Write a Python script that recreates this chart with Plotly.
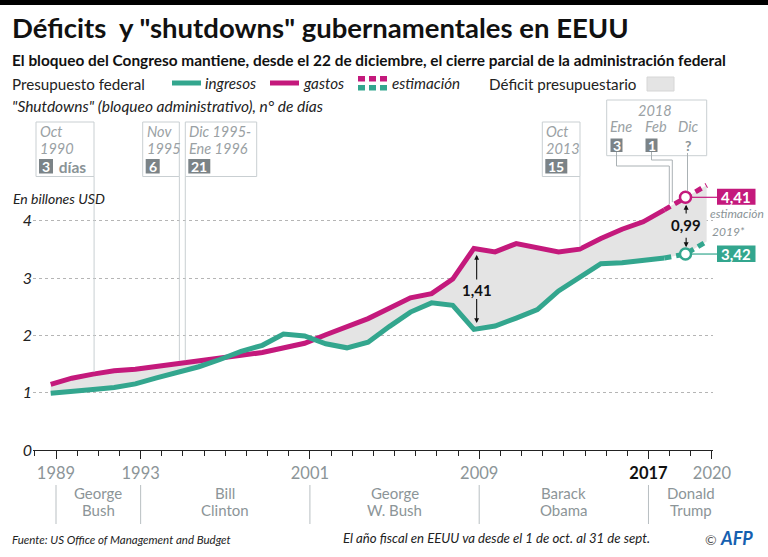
import numpy as np
import plotly.graph_objects as go

# ---------------- data ----------------
years = list(range(1989, 2021))
ingresos = [0.991, 1.032, 1.055, 1.091, 1.154, 1.259, 1.352, 1.453, 1.579, 1.722,
            1.827, 2.025, 1.991, 1.853, 1.783, 1.880, 2.154, 2.407, 2.568, 2.524,
            2.105, 2.163, 2.303, 2.450, 2.775, 3.021, 3.250, 3.268, 3.316, 3.350,
            3.420, 3.640]
gastos = [1.144, 1.253, 1.324, 1.382, 1.410, 1.462, 1.516, 1.561, 1.601, 1.652,
          1.702, 1.789, 1.863, 2.011, 2.160, 2.293, 2.472, 2.655, 2.729, 2.983,
          3.518, 3.457, 3.603, 3.537, 3.455, 3.506, 3.692, 3.853, 3.982, 4.190,
          4.410, 4.620]
first_estimate_year = 2018          # dashed from here on
highlight_year = 2019               # circles / labels
deficit_2009 = "1,41"
deficit_2019 = "0,99"
label_gastos_2019 = "4,41"
label_ingresos_2019 = "3,42"

tick_major = [1989, 1993, 2001, 2009, 2017, 2020]
tick_minor = list(range(1988, 2021))
presidents = ["George<br>Bush", "Bill<br>Clinton", "George<br>W. Bush", "Barack<br>Obama", "Donald<br>Trump"]
president_start = [1989, 1993, 2001, 2009, 2017]
president_center = [1991, 1997, 2005, 2013, 2019]

# shutdown markers (position on the time axis)
shutdowns = [
    dict(pos=1990.80, lines=["Oct", "1990"], days="3", extra=" días"),
    dict(pos=1994.83, lines=["Nov", "1995"], days="6", extra=""),
    dict(pos=1995.11, lines=["Dic 1995-", "Ene 1996"], days="21", extra=""),
    dict(pos=2013.76, lines=["Oct", "2013"], days="15", extra=""),
]

# ---------------- style ----------------
FONT = "Lato"
PINK = "#c4197c"
TEAL = "#33a68e"
FILL = "#e4e4e4"
GREY_T = "#8c9598"
BOX_T = "#9aa1a4"
BOX_L = "#c9cfd2"
NUMBOX = "#7b8387"

L, R, T_, B = 33, 55, 0, 107
W = 768 - L - R
H = 557 - T_ - B
PXY = 57.3                       # px per unit on y
XPPY = 21.16                     # px per year
x0 = 1989 - (56 - L) / XPPY
x1 = x0 + W / XPPY
ytop = H / PXY


def px(x):
    return (x - L) / W


def py(y):
    return (H - (y - T_)) / H


xf = [y - 0.25 for y in years]   # fiscal year starts 1 Oct of the previous year
k = years.index(first_estimate_year)
h = years.index(highlight_year)

# fill polygon (deficit only)
fx, flo, fhi = [], [], []
for i in range(len(xf)):
    if i > 0:
        d0 = gastos[i - 1] - ingresos[i - 1]
        d1 = gastos[i] - ingresos[i]
        if d0 * d1 < 0:
            t = d0 / (d0 - d1)
            xc = xf[i - 1] + t * (xf[i] - xf[i - 1])
            yc = ingresos[i - 1] + t * (ingresos[i] - ingresos[i - 1])
            fx.append(xc); flo.append(yc); fhi.append(yc)
    fx.append(xf[i]); flo.append(ingresos[i]); fhi.append(max(gastos[i], ingresos[i]))

fig = go.Figure()
fig.add_trace(go.Scatter(x=fx, y=flo, mode="lines", line=dict(width=0), hoverinfo="skip"))
fig.add_trace(go.Scatter(x=fx, y=fhi, mode="lines", line=dict(width=0), fill="tonexty",
                         fillcolor=FILL, hoverinfo="skip"))
# solid lines
fig.add_trace(go.Scatter(x=xf[:k + 1], y=gastos[:k + 1], mode="lines",
                         line=dict(color=PINK, width=5)))
fig.add_trace(go.Scatter(x=xf[:k + 1], y=ingresos[:k + 1], mode="lines",
                         line=dict(color=TEAL, width=5)))
# estimates
fig.add_trace(go.Scatter(x=xf[k:], y=gastos[k:], mode="lines",
                         line=dict(color=PINK, width=5, dash="7px,5px")))
fig.add_trace(go.Scatter(x=xf[k:], y=ingresos[k:], mode="lines",
                         line=dict(color=TEAL, width=5, dash="7px,5px")))
fig.add_trace(go.Scatter(x=[xf[h]], y=[gastos[h]], mode="markers",
                         marker=dict(size=11, color="white", line=dict(color=PINK, width=2.5))))
fig.add_trace(go.Scatter(x=[xf[h]], y=[ingresos[h]], mode="markers",
                         marker=dict(size=11, color="white", line=dict(color=TEAL, width=2.5))))

A = []
S = []


def txt(x, y, text, size=15, color="#222", xanchor="left", yanchor="middle"):
    A.append(dict(x=px(x), y=py(y), xref="paper", yref="paper", text=text, showarrow=False,
                  xanchor=xanchor, yanchor=yanchor, borderpad=0,
                  font=dict(family=FONT, size=size, color=color)))


def rect(xa, ya, xb, yb, fill=None, line=None, lw=1):
    S.append(dict(type="rect", xref="paper", yref="paper", x0=px(xa), x1=px(xb),
                  y0=py(ya), y1=py(yb), fillcolor=fill if fill else "rgba(0,0,0,0)",
                  line=dict(color=line if line else "rgba(0,0,0,0)", width=lw if line else 0)))


def seg(xa, ya, xb, yb, color, width=1, dash=None):
    S.append(dict(type="line", xref="paper", yref="paper", x0=px(xa), x1=px(xb),
                  y0=py(ya), y1=py(yb), line=dict(color=color, width=width, dash=dash)))


def xpix(pos):
    return 56 + (pos - 1989) * XPPY


def ypix(v):
    return 450 - v * PXY


# top bar, title, subtitle
rect(0, 0, 768, 5, fill="#000")
txt(11, 28, "<b>Déficits  y \"shutdowns\" gubernamentales en EEUU</b>", size=27.5, color="#111")
txt(11, 60, "<b>El bloqueo del Congreso mantiene, desde el 22 de diciembre, el cierre parcial de la administración federal</b>",
    size=15.4, color="#111")

# legend
txt(11, 84, "Presupuesto federal", size=15.2)
seg(172, 83, 201, 83, TEAL, 5)
txt(204, 83, "<i>ingresos</i>", size=15.2)
seg(270, 83, 299, 83, PINK, 5)
txt(302, 83, "<i>gastos</i>", size=15.2)
for i in range(3):
    rect(358 + 11 * i, 76, 365 + 11 * i, 81.5, fill=PINK)
    rect(358 + 11 * i, 85, 365 + 11 * i, 90.5, fill=TEAL)
txt(391, 83, "<i>estimación</i>", size=15.2)
txt(488, 84, "Déficit presupuestario", size=15.2)
rect(647, 77, 674, 91, fill=FILL, line="#d6d6d6")
txt(11, 106, "<i>\"Shutdowns\" (bloqueo administrativo), n° de días</i>", size=15.5)

# y axis title
txt(12, 199, "<i>En billones USD</i>", size=14)

# shutdown boxes
box_geo = [
    (36, 94), (142.7, 179.3), (185.3, 256.7), (542.3, 580),
]
for sd, (bx0, bx1) in zip(shutdowns, box_geo):
    rect(bx0, 122, bx1, 176.5, line=BOX_L)
    tx = bx0 + 3
    txt(tx, 131.5, "<i>" + sd["lines"][0] + "</i>", size=14.5, color=BOX_T)
    txt(tx, 148.5, "<i>" + sd["lines"][1] + "</i>", size=14.5, color=BOX_T)
    wbox = 6 + 8 * len(sd["days"])
    rect(tx, 159, tx + wbox, 173.5, fill=NUMBOX)
    txt(tx + wbox / 2, 166.5, "<b>" + sd["days"] + "</b>", size=14, color="white", xanchor="center")
    if sd["extra"]:
        txt(tx + wbox + 1, 166.5, "<b>" + sd["extra"] + "</b>", size=15.5, color="#8a9396")
    xl = xpix(sd["pos"])
    yend = ypix(np.interp(sd["pos"], xf, gastos)) - 2
    seg(xl, 176.5, xl, yend, BOX_L)

# 2018 box
rect(606.7, 100, 706.7, 155.7, line=BOX_L)
txt(655, 110.5, "<i>2018</i>", size=14.5, color=BOX_T, xanchor="center")
xc = xpix(xf[h]) + 2
for cx, lab in [(621, "Ene"), (656, "Feb"), (xc, "Dic")]:
    txt(cx, 126.5, "<i>" + lab + "</i>", size=14.5, color=BOX_T, xanchor="center")
rect(610.5, 138.5, 622.5, 152, fill=NUMBOX)
txt(616.5, 145.5, "<b>3</b>", size=14, color="white", xanchor="center")
rect(645.5, 138.5, 657.5, 152, fill=NUMBOX)
txt(651.5, 145.5, "<b>1</b>", size=14, color="white", xanchor="center")
txt(xc, 145.5, "<b>?</b>", size=14, color="#8a9396", xanchor="center")
# connectors
for sx, hy, dx in [(616.5, 166, 669.3), (651.5, 160, 672.3)]:
    seg(sx, 152, sx, hy, "#aab1b4")
    seg(sx, hy, dx, hy, "#aab1b4")
    yend = ypix(np.interp(1989 + (dx - 56) / XPPY, xf, gastos)) - 3
    seg(dx, hy, dx, yend, "#aab1b4")
seg(xc, 153, xc, ypix(gastos[h]) - 6, "#aab1b4")

# right-hand labels
xr = xpix(xf[h])
yg, yi = ypix(gastos[h]), ypix(ingresos[h])
seg(xr + 6, yg, 717, yg, PINK, 1.2)
rect(717, yg - 8.5, 755.5, yg + 7.5, fill=PINK)
txt(736.2, yg - 0.5, "<b>" + label_gastos_2019 + "</b>", size=15, color="white", xanchor="center")
seg(xr + 6, yi, 717, yi, TEAL, 1.2)
rect(717, yi - 8.5, 755.5, yi + 8, fill=TEAL)
txt(736.2, yi, "<b>" + label_ingresos_2019 + "</b>", size=15, color="white", xanchor="center")
txt(709, 214, "<i>estimación</i>", size=12, color="#8a9396")
txt(711, 231, "<i>2019*</i>", size=12, color="#8a9396")


# deficit arrows (data coords)
def arrow(x, ytail, yhead):
    A.append(dict(x=x, y=yhead, ax=x, ay=ytail, xref="x", yref="y", axref="x", ayref="y",
                  text="", showarrow=True, arrowhead=2, arrowsize=0.9, arrowwidth=1.1,
                  arrowcolor="#111", standoff=0, startstandoff=0))


x09 = xf[years.index(2009)] + 0.13
A.append(dict(x=x09, y=2.80, xref="x", yref="y", text="<b>" + deficit_2009 + "</b>", showarrow=False,
              font=dict(family=FONT, size=15, color="#111")))
arrow(x09, 2.95, gastos[years.index(2009)] - 0.11)
arrow(x09, 2.66, ingresos[years.index(2009)] + 0.11)
x19 = xf[h] + 0.03
A.append(dict(x=x19, y=3.92, xref="x", yref="y", text="<b>" + deficit_2019 + "</b>", showarrow=False,
              font=dict(family=FONT, size=15, color="#111")))
arrow(x19, 4.10, gastos[h] - 0.13)
arrow(x19, 3.73, ingresos[h] + 0.12)

# presidents
for name, st, cen in zip(presidents, president_start, president_center):
    S.append(dict(type="line", xref="x", yref="paper", x0=st, x1=st, y0=py(485), y1=py(524),
                  line=dict(color="#b9bfc2", width=1)))
    l1, l2 = name.split("<br>")
    A.append(dict(x=cen, y=py(492.5), xref="x", yref="paper", text=l1, showarrow=False,
                  font=dict(family=FONT, size=15, color=GREY_T), yanchor="middle"))
    A.append(dict(x=cen, y=py(510.5), xref="x", yref="paper", text=l2, showarrow=False,
                  font=dict(family=FONT, size=15, color=GREY_T), yanchor="middle"))

# footer
txt(11, 539, "<i>Fuente: US Office of Management and Budget</i>", size=11.5, color="#222")
txt(342, 538, "<i>El año fiscal en EEUU va desde el 1 de oct. al 31 de sept.</i>", size=13.2, color="#222")
txt(704, 539, "©", size=14, color="#555")
txt(719, 538, "<b><i>AFP</i></b>", size=18, color="#1560b0")

ticktext = ["<b><span style='color:#111'>%d</span></b>" % y if y == 2017 else str(y) for y in tick_major]

fig.update_layout(
    width=768, height=557,
    margin=dict(l=L, r=R, t=T_, b=B),
    paper_bgcolor="white", plot_bgcolor="white",
    showlegend=False,
    font=dict(family=FONT),
    shapes=S, annotations=A,
    xaxis=dict(range=[x0, x1], tickmode="array", tickvals=tick_major, ticktext=ticktext,
               ticks="outside", ticklen=8, tickwidth=1, tickcolor="#222",
               showline=True, linecolor="#222", linewidth=1.3, showgrid=False, zeroline=False,
               tickfont=dict(family=FONT, size=16.5, color=GREY_T),
               minor=dict(tickmode="array", tickvals=tick_minor, ticks="outside", ticklen=5,
                          tickwidth=1, tickcolor="#222", showgrid=False)),
    yaxis=dict(range=[0, ytop], tickmode="array", tickvals=[0, 1, 2, 3, 4],
               ticktext=["<i>%d</i>" % v for v in [0, 1, 2, 3, 4]],
               showgrid=True, gridcolor="#b5b5b5", griddash="dot", gridwidth=1,
               zeroline=False, showline=False, ticks="",
               tickfont=dict(family=FONT, size=16, color="#222")),
)

fig.write_html("out.html")
